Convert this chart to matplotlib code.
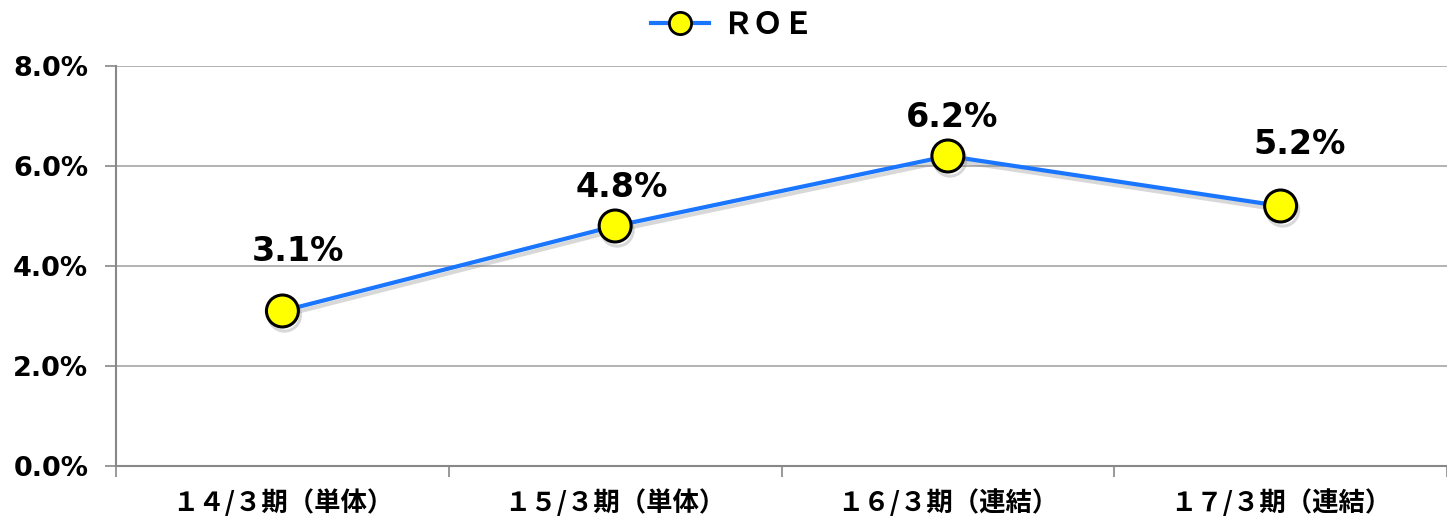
import matplotlib
matplotlib.use('Agg')
import matplotlib.pyplot as plt
import matplotlib.patheffects as pe
from matplotlib.lines import Line2D
from matplotlib.ticker import FuncFormatter, FixedLocator

plt.rcParams['font.family'] = ['Noto Sans CJK JP', 'DejaVu Sans']

# data
categories = ['１４/３期（単体）', '１５/３期（単体）', '１６/３期（連結）', '１７/３期（連結）']
roe = [3.1, 4.8, 6.2, 5.2]
series_name = 'ＲＯＥ'
yticks = [0, 2, 4, 6, 8]

# label offsets in points (dx, dy) - placed like the original
label_offsets = [(11, 43), (5, 28), (3, 28), (14, 44)]

fig = plt.figure(figsize=(14.47, 5.22), dpi=100)
ax = fig.add_axes([0.0802, 0.1073, 0.9198, 0.7663])

x = list(range(len(categories)))
shadow = [pe.SimpleLineShadow(offset=(1.5, -3), shadow_color='gray', alpha=0.3), pe.Normal()]
line, = ax.plot(x, roe, color='#1a75ff', lw=3, marker='o', markersize=23,
                markerfacecolor='#ffff00', markeredgecolor='black', markeredgewidth=2.2,
                zorder=3, path_effects=shadow)

for xi, v, (dx, dy) in zip(x, roe, label_offsets):
    ax.annotate(f'{v:.1f}%', (xi, v), xytext=(dx, dy), textcoords='offset points',
                ha='center', va='center', fontsize=24, fontweight='bold',
                family='DejaVu Sans', color='black')

ax.set_xlim(-0.5, len(categories) - 0.5)
ax.set_ylim(0, 8)
ax.set_yticks(yticks)
ax.yaxis.set_major_formatter(FuncFormatter(lambda v, p: f'{v:.1f}%'))
for lab in ax.get_yticklabels():
    lab.set_family('DejaVu Sans')
    lab.set_fontweight('bold')
    lab.set_fontsize(19.5)

ax.set_xticks(x)
ax.set_xticklabels(categories, fontsize=19, fontweight='bold')
ax.tick_params(axis='x', which='major', length=0, pad=17)
ax.xaxis.set_minor_locator(FixedLocator([i - 0.5 for i in range(len(categories) + 1)]))
ax.tick_params(axis='x', which='minor', length=8, width=1.2, color='#888888')
ax.tick_params(axis='y', length=8, width=1.2, color='#888888', pad=12)

ax.grid(axis='y', color='#a6a6a6', lw=1.2)
ax.set_axisbelow(True)
for s in ['top', 'right']:
    ax.spines[s].set_visible(False)
for s in ['left', 'bottom']:
    ax.spines[s].set_color('#888888')
    ax.spines[s].set_linewidth(1.5)

handle = Line2D([], [], color='#1a75ff', lw=3, marker='o', markersize=16,
                markerfacecolor='#ffff00', markeredgecolor='black', markeredgewidth=2)
fig.legend(handles=[handle], labels=[series_name], loc='center', bbox_to_anchor=(0.506, 0.952),
           frameon=False, prop={'family': 'Noto Sans CJK JP', 'weight': 'bold', 'size': 22},
           handlelength=1.9, handletextpad=0.4)

fig.savefig('out.png', dpi=100)
